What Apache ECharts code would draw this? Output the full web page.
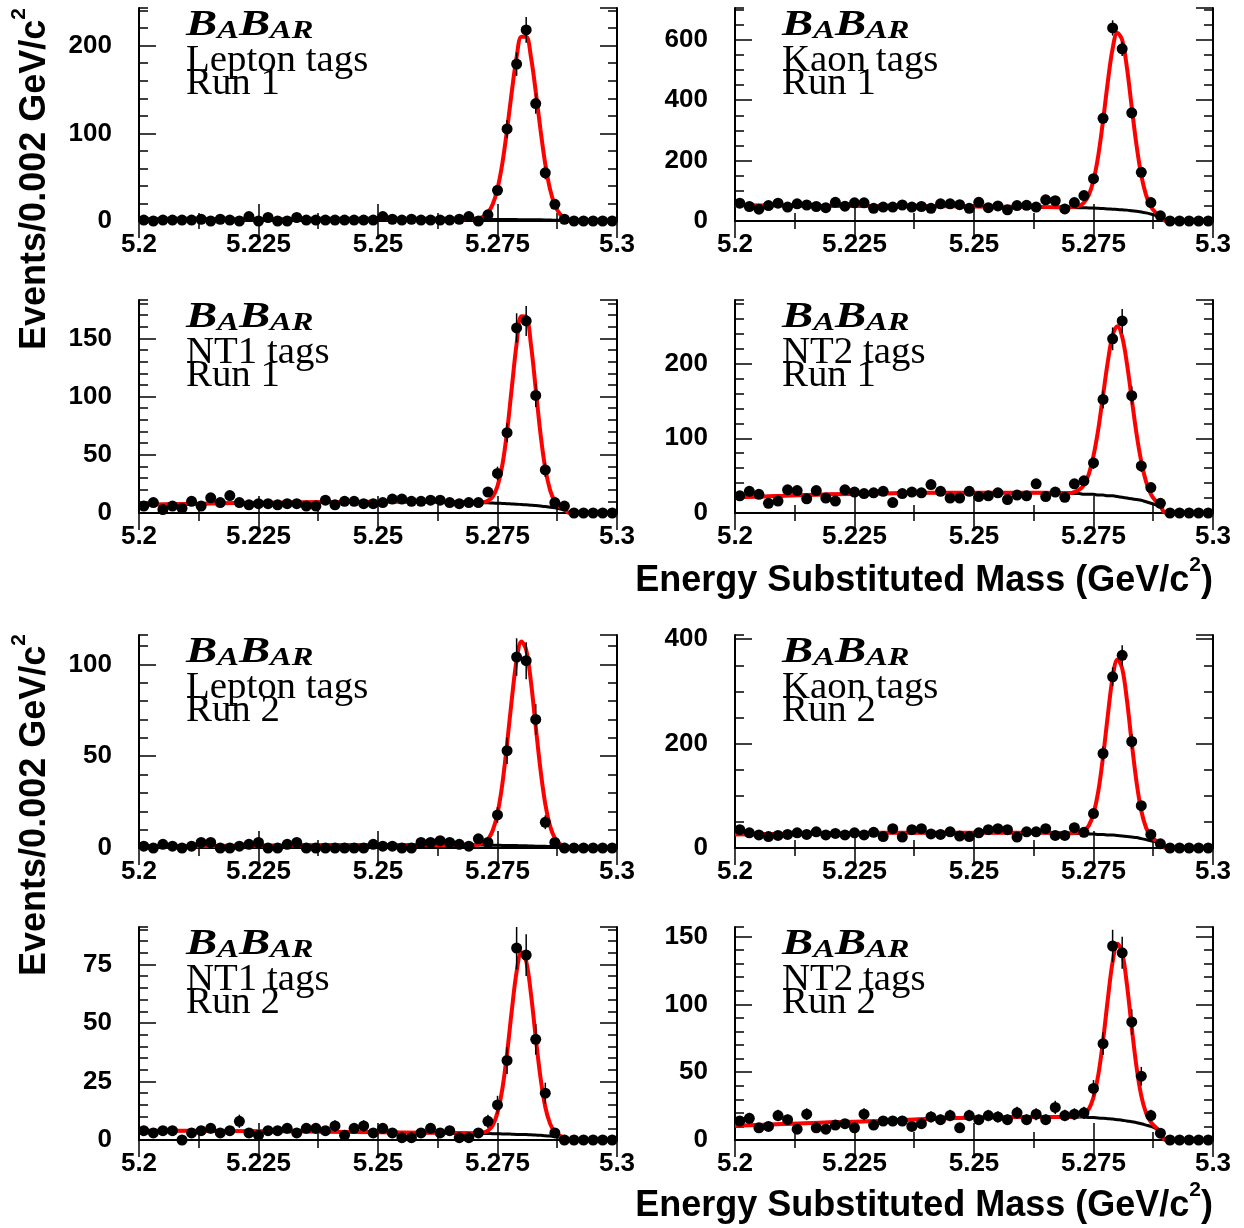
<!DOCTYPE html>
<html>
<head>
<meta charset="utf-8">
<script src="https://cdn.jsdelivr.net/npm/echarts@6/dist/echarts.min.js"></script>
<style>
  html, body { margin: 0; padding: 0; background: #fff; }
  #chart { width: 1244px; height: 1228px; }
</style>
</head>
<body>
<div id="chart"></div>
<script>
// histogram bin centres, 0.002 GeV/c^2 bins
const binCenters = [5.201, 5.203, 5.205, 5.207, 5.209, 5.211, 5.213, 5.215, 5.217, 5.219,
  5.221, 5.223, 5.225, 5.227, 5.229, 5.231, 5.233, 5.235, 5.237, 5.239,
  5.241, 5.243, 5.245, 5.247, 5.249, 5.251, 5.253, 5.255, 5.257, 5.259,
  5.261, 5.263, 5.265, 5.267, 5.269, 5.271, 5.273, 5.275, 5.277, 5.279,
  5.281, 5.283, 5.285, 5.287, 5.289, 5.291, 5.293, 5.295, 5.297, 5.299]

const fitMass = [5.200, 5.210, 5.220, 5.230, 5.240, 5.250, 5.260, 5.265, 5.270, 5.272,
  5.273, 5.274, 5.275, 5.276, 5.277, 5.278, 5.279, 5.280, 5.281, 5.282,
  5.283, 5.284, 5.285, 5.286, 5.287, 5.288, 5.289, 5.290, 5.295, 5.300]

// events per bin
const leptonRun1 = [1, 0, 1, 1, 1, 1, 2, 0, 2, 1, 0, 5, 0, 4, 0, 0, 4, 1, 1, 1,
  1, 1, 1, 1, 1, 5, 2, 1, 2, 1, 1, 1, 1, 2, 5, 0, 7, 35, 105, 179,
  218, 134, 55, 19, 2, 0, 0, 0, 0, 0]
const kaonRun1 = [59, 48, 39, 51, 59, 46, 57, 53, 48, 44, 62, 49, 60, 60, 42, 46, 46, 53, 46, 48,
  42, 57, 57, 54, 42, 62, 44, 50, 37, 51, 52, 46, 70, 67, 40, 61, 84, 140, 340, 639,
  570, 358, 161, 61, 17, 0, 0, 0, 0, 0]
const nt1Run1 = [6, 9, 3, 6, 4, 10, 6, 13, 9, 15, 9, 7, 8, 8, 7, 8, 8, 6, 6, 11,
  7, 10, 10, 8, 8, 9, 12, 12, 10, 10, 11, 11, 9, 8, 9, 9, 18, 34, 69, 159,
  165, 101, 37, 9, 6, 0, 0, 0, 0, 0]
const nt2Run1 = [23, 29, 25, 13, 16, 31, 30, 19, 30, 20, 16, 31, 28, 26, 27, 29, 14, 26, 28, 27,
  38, 29, 20, 20, 29, 22, 23, 27, 18, 24, 23, 39, 22, 28, 21, 39, 43, 67, 152, 233,
  257, 157, 63, 34, 13, 0, 0, 0, 0, 0]
const leptonRun2 = [1, 0, 2, 1, 0, 1, 3, 3, 0, 0, 1, 2, 3, 0, 0, 2, 3, 0, 0, 0,
  0, 0, 0, 0, 2, 1, 1, 0, 0, 3, 3, 4, 3, 2, 1, 5, 3, 18, 53, 104,
  102, 70, 14, 3, 0, 0, 0, 0, 0, 0]
const kaonRun2 = [35, 29, 25, 22, 24, 26, 29, 26, 31, 25, 28, 25, 29, 25, 30, 22, 37, 21, 35, 37,
  27, 26, 31, 23, 22, 29, 35, 37, 35, 21, 31, 31, 37, 24, 24, 39, 30, 66, 181, 328,
  369, 204, 81, 26, 8, 0, 0, 0, 0, 0]
const nt1Run2 = [4, 3, 4, 4, 0, 3, 4, 5, 3, 4, 8, 3, 2, 4, 4, 5, 3, 5, 5, 4,
  6, 2, 5, 6, 3, 5, 3, 1, 1, 3, 5, 3, 4, 1, 1, 3, 8, 15, 34, 82,
  79, 43, 20, 3, 0, 0, 0, 0, 0, 0]
const nt2Run2 = [14, 16, 9, 10, 18, 15, 8, 19, 9, 8, 11, 12, 9, 19, 11, 14, 14, 14, 10, 12,
  17, 15, 18, 9, 18, 15, 18, 17, 15, 20, 15, 19, 15, 24, 18, 19, 20, 38, 71, 143,
  138, 87, 47, 18, 5, 0, 0, 0, 0, 0]

// total fit (red) and background (black) curves, read at fitMass
const leptonRun1Fit = [1.9, 2.0, 2.1, 2.1, 2.2, 2.2, 2.1, 2.1, 2.3, 4.8, 9.4, 19.0, 36.9, 65.3, 104.1,
  148.0, 187.1, 210.3, 210.3, 186.9, 147.6, 103.7, 64.8, 36.1, 18.1, 8.3, 3.4, 0.3, 0, 0]
const leptonRun1Bkg = [1.9, 2.0, 2.1, 2.1, 2.2, 2.2, 2.1, 2.1, 2.0, 1.9, 1.9, 1.8, 1.8, 1.7, 1.7,
  1.7, 1.6, 1.5, 1.5, 1.4, 1.3, 1.3, 1.2, 1.0, 0.9, 0.8, 0.5, 0, 0, 0]
const kaonRun1Fit = [52, 51, 50, 50, 49, 48, 47, 46, 45.5, 49.8, 60.8, 85, 134.6, 216.9, 332.2,
  460.9, 570.8, 623.2, 598.8, 506.2, 376.8, 250.4, 150.9, 85.5, 47.6, 28, 15.9, 0.8, 0, 0]
const kaonRun1Bkg = [52, 51, 50, 50, 49, 48, 47, 46, 45, 44, 44, 43, 43, 42, 41,
  40, 39, 38, 37, 36, 34, 32, 30, 27, 23, 19, 13, 0, 0, 0]
const nt1Run1Fit = [7.0, 7.8, 8.5, 9.0, 9.4, 9.6, 9.5, 9.3, 9.0, 9.3, 10.5, 14.1, 23.1, 40.9, 69.9,
  108.0, 145.4, 169.0, 168.7, 144.5, 106.6, 67.9, 38.2, 19.7, 10.0, 5.4, 3.1, 0.1, 0, 0]
const nt1Run1Bkg = [7.0, 7.8, 8.5, 9.0, 9.4, 9.6, 9.5, 9.3, 9.0, 8.8, 8.7, 8.5, 8.4, 8.2, 8.0,
  7.8, 7.6, 7.3, 7.0, 6.7, 6.4, 6.0, 5.5, 5.0, 4.4, 3.6, 2.6, 0, 0, 0]
const nt2Run1Fit = [21, 23, 25, 26, 27, 27, 27, 27, 26.6, 31.1, 37.4, 51.8, 76.6, 112.0, 157.6,
  202.7, 237.8, 250, 235.8, 199.7, 152.6, 106.0, 68.6, 41.8, 25.4, 16.1, 9.8, 0.6, 0, 0]
const nt2Run1Bkg = [21, 23, 25, 26, 27, 27, 27, 27, 26, 26, 25, 25, 25, 24, 24,
  23, 23, 22, 21, 20, 19, 18, 17, 15, 13, 11, 8, 0, 0, 0]
const leptonRun2Fit = [0.8, 1.0, 1.2, 1.4, 1.6, 1.7, 1.7, 1.7, 1.7, 2.7, 4.7, 9.5, 18.9, 34.6, 56.7,
  81.2, 102.3, 112.4, 107.9, 90.4, 66.1, 42.5, 23.9, 11.9, 5.4, 2.3, 0.9, 0.1, 0, 0]
const leptonRun2Bkg = [0.8, 1.0, 1.2, 1.4, 1.6, 1.7, 1.7, 1.7, 1.6, 1.6, 1.5, 1.5, 1.5, 1.4, 1.4,
  1.3, 1.3, 1.2, 1.2, 1.1, 1.0, 1.0, 0.9, 0.8, 0.7, 0.6, 0.4, 0, 0, 0]
const kaonRun2Fit = [26, 27, 28, 29, 29, 29, 29, 29, 28.1, 29.6, 33.3, 42.6, 65.9, 108.5, 175.1,
  254.5, 326.2, 361.0, 344.1, 282.9, 201.5, 126.5, 71.4, 38.9, 22.3, 14.6, 8.7, 0.1, 0, 0]
const kaonRun2Bkg = [26, 27, 28, 29, 29, 29, 29, 29, 28, 28, 28, 27, 27, 26, 26,
  25, 25, 24, 23, 22, 21, 20, 18, 16, 14, 12, 8, 0, 0, 0]
const nt1Run2Fit = [4.0, 3.9, 3.8, 3.7, 3.5, 3.3, 3.1, 3.0, 2.9, 3.2, 4.0, 6.3, 11.7, 21.6, 37.0,
  55.5, 71.9, 80.2, 76.4, 62.4, 43.8, 26.6, 14.1, 7.0, 3.4, 1.8, 1.1, 0, 0, 0]
const nt1Run2Bkg = [4.0, 3.9, 3.8, 3.7, 3.5, 3.3, 3.1, 3.0, 2.9, 2.8, 2.8, 2.7, 2.7, 2.6, 2.6,
  2.5, 2.4, 2.4, 2.3, 2.2, 2.1, 2.0, 1.8, 1.7, 1.5, 1.2, 0.9, 0, 0, 0]
const nt2Run2Fit = [10.5, 11.8, 13, 14, 15.5, 16.5, 17, 17, 17.0, 17.6, 18.9, 22.6, 31.5, 47.9, 73.3,
  104.0, 131.2, 144.6, 138.1, 114.4, 82.9, 53.8, 32.5, 19.8, 13.2, 9.5, 6.3, 0.1, 0, 0]
const nt2Run2Bkg = [10.5, 11.8, 13, 14, 15.5, 16.5, 17, 17, 17, 17, 16.8, 16.6, 16.5, 16.2, 16,
  15.7, 15.4, 15, 14.6, 14, 13.5, 12.8, 12, 11, 10, 8.5, 6, 0, 0, 0]

const sans = '"Liberation Sans", Arial, Helvetica, sans-serif'
const serif = '"Liberation Serif", "Times New Roman", serif'

const colLeft = [139, 735]
const rowTop = [8, 300, 635, 927]
const plotW = 478
const plotH = 213

const panels = [
  { tag: 'Lepton tags', run: 'Run 1', col: 0, row: 0, yMax: 243, major: 100, minor: 20, counts: leptonRun1, fit: leptonRun1Fit, bkg: leptonRun1Bkg },
  { tag: 'Kaon tags', run: 'Run 1', col: 1, row: 0, yMax: 705, major: 200, minor: 50, counts: kaonRun1, fit: kaonRun1Fit, bkg: kaonRun1Bkg },
  { tag: 'NT1 tags', run: 'Run 1', col: 0, row: 1, yMax: 183, major: 50, minor: 10, counts: nt1Run1, fit: nt1Run1Fit, bkg: nt1Run1Bkg },
  { tag: 'NT2 tags', run: 'Run 1', col: 1, row: 1, yMax: 285, major: 100, minor: 20, counts: nt2Run1, fit: nt2Run1Fit, bkg: nt2Run1Bkg },
  { tag: 'Lepton tags', run: 'Run 2', col: 0, row: 2, yMax: 116, major: 50, minor: 10, counts: leptonRun2, fit: leptonRun2Fit, bkg: leptonRun2Bkg },
  { tag: 'Kaon tags', run: 'Run 2', col: 1, row: 2, yMax: 408, major: 200, minor: 50, counts: kaonRun2, fit: kaonRun2Fit, bkg: kaonRun2Bkg },
  { tag: 'NT1 tags', run: 'Run 2', col: 0, row: 3, yMax: 91, major: 25, minor: 5, counts: nt1Run2, fit: nt1Run2Fit, bkg: nt1Run2Bkg },
  { tag: 'NT2 tags', run: 'Run 2', col: 1, row: 3, yMax: 157, major: 50, minor: 10, counts: nt2Run2, fit: nt2Run2Fit, bkg: nt2Run2Bkg }
]

const frameLine = { show: true, lineStyle: { color: '#000', width: 2 } }
const noLine = { show: false }
const tickLabel = { color: '#000', fontFamily: sans, fontWeight: 'bold', fontSize: 26 }

function tick(len) {
  return { show: true, inside: true, length: len, lineStyle: { color: '#000', width: 1.5 } }
}

const grid = []
const xAxis = []
const yAxis = []
const series = []
const graphic = []

panels.forEach((p, i) => {
  const left = colLeft[p.col]
  const top = rowTop[p.row]
  grid.push({ left: left, top: top, width: plotW, height: plotH, containLabel: false })

  const xBase = {
    gridIndex: i, type: 'value', min: 5.2, max: 5.3, interval: 0.025,
    axisLine: frameLine, axisTick: tick(17),
    minorTick: { show: true, splitNumber: 2, length: 8, lineStyle: { color: '#000', width: 1.5 } },
    splitLine: { show: false }
  }
  xAxis.push(Object.assign({}, xBase, {
    position: 'bottom',
    axisLabel: Object.assign({ show: true, margin: 11, formatter: v => String(Math.round(v * 1000) / 1000) }, tickLabel)
  }))
  xAxis.push(Object.assign({}, xBase, { position: 'top', axisLabel: { show: false } }))

  const yBase = { gridIndex: i, type: 'value', min: 0, max: p.yMax, splitLine: { show: false } }
  yAxis.push(Object.assign({}, yBase, {
    position: 'left', interval: p.major, axisLine: frameLine, axisTick: tick(17),
    axisLabel: Object.assign({ show: true, margin: 27, showMaxLabel: false }, tickLabel)
  }))
  yAxis.push(Object.assign({}, yBase, {
    position: 'left', interval: p.minor, axisLine: noLine, axisTick: tick(9), axisLabel: { show: false }
  }))
  yAxis.push(Object.assign({}, yBase, {
    position: 'right', interval: p.major, axisLine: frameLine, axisTick: tick(17), axisLabel: { show: false }
  }))
  yAxis.push(Object.assign({}, yBase, {
    position: 'right', interval: p.minor, axisLine: noLine, axisTick: tick(9), axisLabel: { show: false }
  }))

  const xi = 2 * i
  const yi = 4 * i
  const points = binCenters.map((m, k) => [m, p.counts[k]])

  series.push({
    type: 'line', xAxisIndex: xi, yAxisIndex: yi, z: 2,
    data: fitMass.map((m, k) => [m, p.bkg[k]]),
    showSymbol: false, smooth: 0.35, lineStyle: { color: '#000', width: 3 }
  })
  series.push({
    type: 'line', xAxisIndex: xi, yAxisIndex: yi, z: 3,
    data: fitMass.map((m, k) => [m, p.fit[k]]),
    showSymbol: false, smooth: 0.35, lineStyle: { color: '#ff0000', width: 4 }
  })
  // poisson error bars
  series.push({
    type: 'custom', xAxisIndex: xi, yAxisIndex: yi, z: 4, clip: true,
    data: points,
    renderItem: (params, api) => {
      const x = api.value(0)
      const n = api.value(1)
      const e = Math.sqrt(n)
      const a = api.coord([x, n + e])
      const b = api.coord([x, n - e])
      return { type: 'line', shape: { x1: a[0], y1: a[1], x2: b[0], y2: b[1] }, style: { stroke: '#000', lineWidth: 1.5 } }
    }
  })
  series.push({
    type: 'scatter', xAxisIndex: xi, yAxisIndex: yi, z: 5,
    data: points, symbol: 'circle', symbolSize: 11, itemStyle: { color: '#000', opacity: 1 }
  })

  // BaBar logo and labels
  graphic.push({
    type: 'text', x: left + 47, y: top + 18, scaleX: 1.3, z: 10,
    style: {
      text: '{b|B}{s|A}{b|B}{s|AR}', align: 'left', verticalAlign: 'middle',
      rich: {
        b: { fontSize: 36, lineHeight: 36, verticalAlign: 'bottom', fontFamily: serif, fontStyle: 'italic', fontWeight: 'bold', fill: '#000' },
        s: { fontSize: 25, lineHeight: 29, verticalAlign: 'bottom', fontFamily: serif, fontStyle: 'italic', fontWeight: 'bold', fill: '#000' }
      }
    }
  })
  graphic.push({
    type: 'text', x: left + 47, y: top + 53, scaleX: 1.05, z: 10,
    style: { text: p.tag, align: 'left', verticalAlign: 'middle', fontFamily: serif, fontSize: 37, fill: '#000' }
  })
  graphic.push({
    type: 'text', x: left + 47, y: top + 76, scaleX: 1.05, z: 10,
    style: { text: p.run, align: 'left', verticalAlign: 'middle', fontFamily: serif, fontSize: 37, fill: '#000' }
  })
})

const titleRich = {
  m: { fontSize: 36, lineHeight: 52, fontFamily: sans, fontWeight: 'bold', fill: '#000' },
  s: { fontSize: 21, lineHeight: 21, verticalAlign: 'top', fontFamily: sans, fontWeight: 'bold', fill: '#000' }
}
;[179, 805].forEach(cy => {
  graphic.push({
    type: 'text', x: 35, y: cy, rotation: Math.PI / 2,
    style: { text: '{m|Events/0.002 GeV/c}{s|2}', align: 'center', verticalAlign: 'middle', rich: titleRich }
  })
})
;[581, 1206].forEach(cy => {
  graphic.push({
    type: 'text', x: 1213, y: cy,
    style: { text: '{m|Energy Substituted Mass (GeV/c}{s|2}{m|)}', align: 'right', verticalAlign: 'middle', rich: titleRich }
  })
})

const chart = echarts.init(document.getElementById('chart'))
chart.setOption({
  animation: false,
  backgroundColor: '#fff',
  grid: grid,
  xAxis: xAxis,
  yAxis: yAxis,
  series: series,
  graphic: graphic
})
</script>
</body>
</html>
